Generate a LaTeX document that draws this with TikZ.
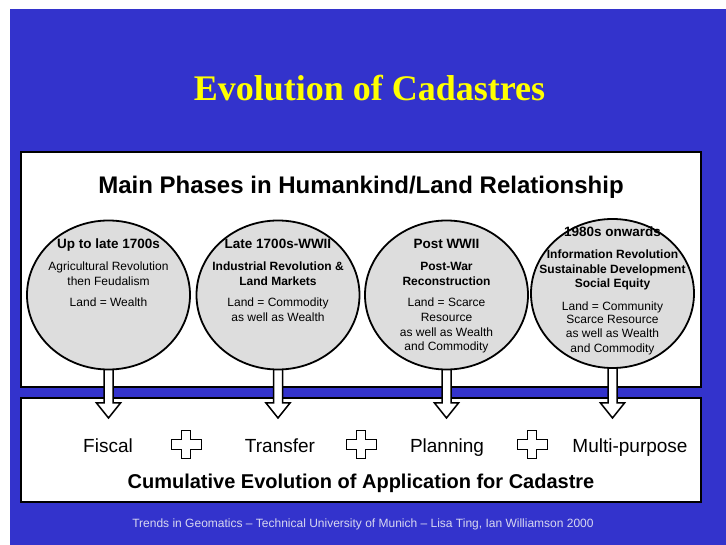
\documentclass[tikz,border=0pt]{standalone}
\usepackage{fontspec}
\setmainfont{Liberation Sans}
\newfontfamily\titlefont{Liberation Serif}
\usetikzlibrary{shapes.geometric,calc}
\definecolor{slideblue}{RGB}{51,51,204}
\definecolor{circgray}{RGB}{221,221,221}
\definecolor{footcol}{RGB}{215,215,240}
\definecolor{titleyellow}{RGB}{255,255,0}
\pgfdeclarelayer{bg}
\pgfdeclarelayer{arrowlayer}
\pgfsetlayers{bg,arrowlayer,main}
\tikzset{
  panel/.style={draw=black, line width=2pt, fill=white},
  phase/.style={ellipse, draw=black, line width=1.8pt, fill=circgray,
    minimum width=163pt, minimum height=149pt, inner sep=0pt},
  hd/.style={font=\fontsize{13.5}{16}\selectfont\bfseries, inner sep=0pt, anchor=base},
  sb/.style={font=\fontsize{12}{14}\selectfont\bfseries, inner sep=0pt, anchor=base},
  tx/.style={font=\fontsize{12}{14}\selectfont, inner sep=0pt, anchor=base},
  app/.style={font=\fontsize{19}{22}\selectfont, inner sep=0pt, anchor=base},
  blockarrow/.style={draw=black, line width=1.5pt, fill=white, line join=miter},
  crosssign/.pic={\draw[fill=white, line width=0.9pt, line join=miter]
    (-4.5,-14) -- (4.5,-14) -- (4.5,-5) -- (15,-5) -- (15,5) -- (4.5,5)
    -- (4.5,14) -- (-4.5,14) -- (-4.5,5) -- (-15,5) -- (-15,-5) -- (-4.5,-5) -- cycle;}
}
\begin{document}
\begin{tikzpicture}[x=1pt,y=-1pt]
\useasboundingbox (0,0) rectangle (726,545);
\begin{pgfonlayer}{bg}
  \fill[white] (0,0) rectangle (726,545);
  \fill[slideblue] (10,9) rectangle (726,545);
  \draw[panel] (21,152) rectangle (701,387);
  \draw[panel] (21,398) rectangle (701,502);
\end{pgfonlayer}

% title
\node[font=\titlefont\fontsize{36}{40}\selectfont\bfseries, text=titleyellow,
  inner sep=0pt, anchor=base] (title) at (369.5,101) {Evolution of Cadastres};

% header
\node[font=\fontsize{24}{26}\selectfont\bfseries, inner sep=0pt, anchor=base]
  (header) at (361,193.5) {Main Phases in Humankind/Land Relationship};

% phase circles
\node[phase] (p1) at (108.5,295) {};
\node[phase] (p2) at (278,295) {};
\node[phase] (p3) at (446.5,295) {};
\node[phase] (p4) at (612.5,293.5) {};

% circle 1
\node[hd] (c1h) at (108.5,248.5) {Up to late 1700s};
\node[tx] (c1a) at (108.5,270.5) {Agricultural Revolution};
\node[tx] (c1b) at (108.5,285.5) {then Feudalism};
\node[tx] (c1c) at (108.5,306.5) {Land = Wealth};

% circle 2
\node[hd] (c2h) at (278,248.5) {Late 1700s-WWII};
\node[sb] (c2a) at (278,270.5) {Industrial Revolution \&};
\node[sb] (c2b) at (278,285.5) {Land Markets};
\node[tx] (c2c) at (278,306.5) {Land = Commodity};
\node[tx] (c2d) at (278,321.5) {as well as Wealth};

% circle 3
\node[hd] (c3h) at (446.5,248.5) {Post WWII};
\node[sb] (c3a) at (446.5,270.5) {Post-War};
\node[sb] (c3b) at (446.5,285.5) {Reconstruction};
\node[tx] (c3c) at (446.5,306.5) {Land = Scarce};
\node[tx] (c3d) at (446.5,321.5) {Resource};
\node[tx] (c3e) at (446.5,336.5) {as well as Wealth};
\node[tx] (c3f) at (446.5,350.5) {and Commodity};

% circle 4
\node[hd] (c4h) at (612.5,237) {1980s onwards};
\node[sb] (c4a) at (612.5,258.5) {Information Revolution};
\node[sb] (c4b) at (612.5,273.5) {Sustainable Development};
\node[sb] (c4c) at (612.5,287.5) {Social Equity};
\node[tx] (c4d) at (612.5,310.5) {Land = Community};
\node[tx] (c4e) at (612.5,323.5) {Scarce Resource};
\node[tx] (c4f) at (612.5,337.5) {as well as Wealth};
\node[tx] (c4g) at (612.5,352.5) {and Commodity};

% applications
\node[app] (a1) at (108,452) {Fiscal};
\node[app] (a2) at (280,452) {Transfer};
\node[app] (a3) at (447,452) {Planning};
\node[app] (a4) at (630,452) {Multi-purpose};

\pic at (186,444) {crosssign};
\pic at (361,444) {crosssign};
\pic at (532,444) {crosssign};

\node[font=\fontsize{20}{24}\selectfont\bfseries, inner sep=0pt, anchor=base]
  (cumul) at (361,488) {Cumulative Evolution of Application for Cadastre};

% footer
\node[font=\fontsize{12}{14}\selectfont, text=footcol, inner sep=0pt, anchor=base]
  (footer) at (363,527.5) {Trends in Geomatics – Technical University of Munich – Lisa Ting, Ian Williamson 2000};

% block arrows
\begin{pgfonlayer}{arrowlayer}
\foreach \i/\x in {1/108.5,2/278,3/446.5,4/612.5}{
  \coordinate (s\i) at ($(p\i.south)+(0,-8)$);
  \coordinate (t\i) at (\x,418);
  \draw[blockarrow] ($(s\i)+(-4.5,0)$) -- ($(t\i)+(-4.5,-15)$) -- ($(t\i)+(-12,-15)$)
    -- (t\i) -- ($(t\i)+(12,-15)$) -- ($(t\i)+(4.5,-15)$) -- ($(s\i)+(4.5,0)$) -- cycle;
}
\end{pgfonlayer}
\end{tikzpicture}
\end{document}
